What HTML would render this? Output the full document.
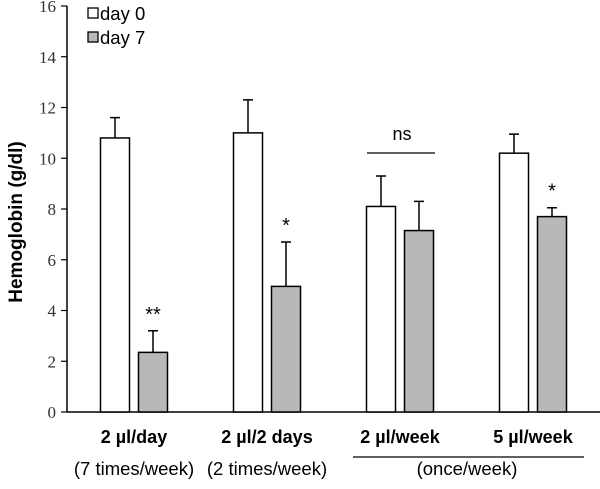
<!DOCTYPE html>
<html><head><meta charset="utf-8"><style>
body{margin:0;background:#fff;}
svg{display:block;font-family:"Liberation Sans",sans-serif;}
</style></head><body>
<svg id="chart" width="600" height="489"></svg>
<script>
const categories=["2 µl/day","2 µl/2 days","2 µl/week","5 µl/week"];
const day0=[10.8,11.0,8.1,10.2];
const day0Err=[0.8,1.3,1.2,0.75];
const day7=[2.35,4.95,7.15,7.7];
const day7Err=[0.85,1.75,1.15,0.35];
const sigLabels=["**","*","","*"];
const yTicks=[0,2,4,6,8,10,12,14,16];

const NS="http://www.w3.org/2000/svg";
const svg=document.getElementById('chart');
const X0=67,Y0=412,Ytop=6,YMAX=16;
const y=v=>Y0-(v/YMAX)*(Y0-Ytop);
const xc=i=>134+i*133;
const BW=29,GAP=9;
function el(t,a,p){const e=document.createElementNS(NS,t);for(const k in a)e.setAttribute(k,a[k]);(p||svg).appendChild(e);return e;}

let ax=el('line',{x1:X0,y1:Ytop,x2:X0,y2:Y0,stroke:'#000','stroke-width':1.5});


let xa=el('line',{x1:X0,y1:Y0,x2:600,y2:Y0,stroke:'#000','stroke-width':1.5});


yTicks.forEach(t=>{
  let tk=el('line',{x1:X0-6,y1:y(t),x2:X0,y2:y(t),stroke:'#000','stroke-width':1.2});
  
  
  let tx=el('text',{x:X0-11,y:y(t)+6,'text-anchor':'end','font-size':17,'font-family':'"Liberation Serif",serif',fill:'#333'});
  tx.textContent=t;
  
  
});
let yt=el('text',{transform:'translate(22,222) rotate(-90)','text-anchor':'middle','font-size':19,'font-weight':'bold'});
yt.textContent='Hemoglobin (g/dl)';



function bar(x,v,e,fill,name){
  let r=el('rect',{x:x,y:y(v),width:BW,height:Y0-y(v),fill:fill,stroke:'#000','stroke-width':1.5});
  
  
  let l=el('path',{d:`M${x+BW/2},${y(v)}V${y(v+e)}M${x+BW/2-5},${y(v+e)}H${x+BW/2+5}`,stroke:'#000','stroke-width':1.5,fill:'none'});
  
  
}
categories.forEach((c,i)=>{
  const cx=xc(i);
  bar(cx-GAP/2-BW,day0[i],day0Err[i],'#fff','bar-day0');
  bar(cx+GAP/2,day7[i],day7Err[i],'#b8b8b8','bar-day7');
  if(sigLabels[i]){
    let s=el('text',{x:cx+GAP/2+BW/2,y:y(day7[i]+day7Err[i])-10,'text-anchor':'middle','font-size':20});
    s.textContent=sigLabels[i];
    
    
  }
  let t=el('text',{x:cx,y:443,'text-anchor':'middle','font-size':18,'font-weight':'bold'});
  t.textContent=c;
  
  
});
let nl=el('line',{x1:xc(2)-33,y1:153,x2:xc(2)+35,y2:153,stroke:'#000','stroke-width':1.2});


let nt=el('text',{x:xc(2)+2,y:140,'text-anchor':'middle','font-size':18});
nt.textContent='ns';


[["(7 times/week)",xc(0)],["(2 times/week)",xc(1)],["(once/week)",467]].forEach(([s,x])=>{
  let t=el('text',{x:x,y:475,'text-anchor':'middle','font-size':18.5});
  t.textContent=s;
  
  
});
let gl=el('line',{x1:353,y1:457,x2:584,y2:457,stroke:'#000','stroke-width':1.2});


[["day 0",'#fff',8],["day 7",'#b8b8b8',32]].forEach(([s,f,yy])=>{
  let r=el('rect',{x:88,y:yy,width:10,height:10,fill:f,stroke:'#000','stroke-width':1.3});
  
  
  let t=el('text',{x:100,y:yy+12,'font-size':18.5});
  t.textContent=s;
  
  
});
</script>
</body></html>
